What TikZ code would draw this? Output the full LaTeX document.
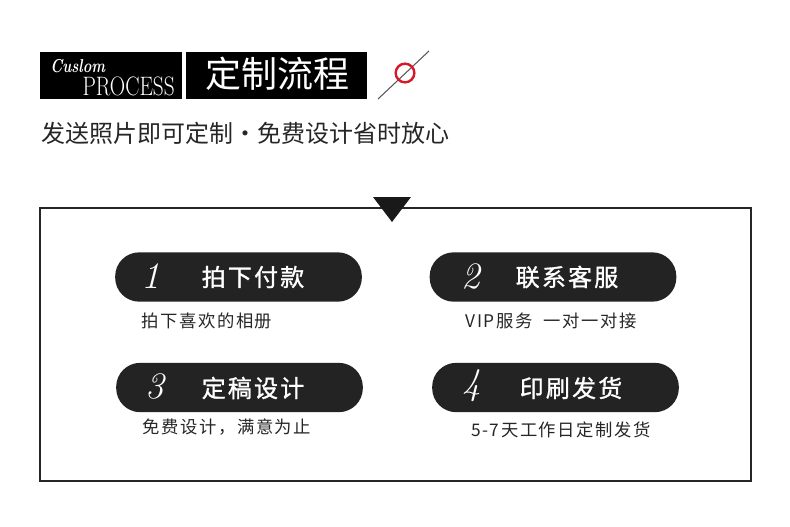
\documentclass[tikz,border=0pt]{standalone}
\usepackage{fontspec}
\newfontfamily\cjk{Noto Sans CJK SC}
\newfontfamily\cjkwide[LetterSpace=9]{Noto Sans CJK SC}
\newfontfamily\cjkhead[LetterSpace=9,FakeBold=1.2]{Noto Sans CJK SC}
\usetikzlibrary{positioning,calc}
\definecolor{pillgray}{HTML}{232323}
\definecolor{markred}{HTML}{D7182A}
\tikzset{
  tag/.style   ={fill=black, minimum height=35pt, inner sep=0pt},
  pill/.style  ={fill=pillgray, rounded corners=18pt, minimum width=185pt,
                 minimum height=37pt, inner sep=0pt},
  num/.style   ={text=white, font=\fontsize{28}{28}\selectfont\itshape},
  ttl/.style   ={text=white, font=\cjkhead\fontsize{18}{18}\selectfont},
  sub/.style   ={text=black!85, font=\cjkwide\fontsize{13}{13}\selectfont},
  frame/.style ={draw=black!85, line width=1pt}
}

\begin{document}
\begin{tikzpicture}[x=0.75pt, y=-0.75pt]
  \useasboundingbox (0,0) rectangle (790,526);

  % header
  \node[tag, minimum width=106pt] (en) at (111,75.5) {};
  \node[tag, minimum width=136pt] (zh) at (276.5,75.5) {};
  \node[text=white, font=\fontsize{14}{14}\selectfont\bfseries\itshape, anchor=west,
        inner sep=0pt] (cus) at (50,66) {\scalebox{0.78}[1]{Cuslom}};
  \node[text=white, font=\fontsize{20}{20}\selectfont, anchor=east, inner sep=0pt]
       (proc) at (175,86) {\scalebox{0.8}[1]{PROCESS}};
  \node[text=white, font=\cjk\fontsize{27}{27}\selectfont] (zhttl) at (277,74) {定制流程};
  \coordinate (sl1) at (378,99);
  \coordinate (sl2) at (429,51);
  \draw[black!65, line width=0.8pt] (sl1) -- (sl2);
  \node[circle, draw=markred, line width=1.8pt, minimum size=14pt, inner sep=0pt]
       (mark) at (405,73) {};
  \node[font=\cjk\fontsize{18}{18}\selectfont, text=black!85, anchor=west] (slogan)
       at (37,133) {发送照片即可定制・免费设计省时放心};

  % frame
  \draw[frame] (40,208) rectangle (751,481);
  \fill[black!90] (373,197) -- (411,197) -- (392,222) -- cycle;

  % steps
  \node[pill] (p1) at (238.5,277) {};
  \node[pill] (p2) at (553,277) {};
  \node[pill] (p3) at (239.5,387.5) {};
  \node[pill] (p4) at (555.5,387.5) {};

  \node[num] (n1) at (151,276) {1};
  \node[num] (n2) at (471,276) {2};
  \node[num] (n3) at (155,386) {3};
  \node[num] (n4) at (472,386) {4};

  \node[ttl] (t1) at (253,277) {拍下付款};
  \node[ttl] (t2) at (567,277) {联系客服};
  \node[ttl] (t3) at (253,388) {定稿设计};
  \node[ttl] (t4) at (571,388) {印刷发货};

  \node[sub] (s1) at (207,321) {拍下喜欢的相册};
  \node[sub] (s2) at (551,321) {VIP服务\ \ 一对一对接};
  \node[sub] (s3) at (227,427) {免费设计，满意为止};
  \node[sub] (s4) at (561,430) {5-7天工作日定制发货};
\end{tikzpicture}
\end{document}
